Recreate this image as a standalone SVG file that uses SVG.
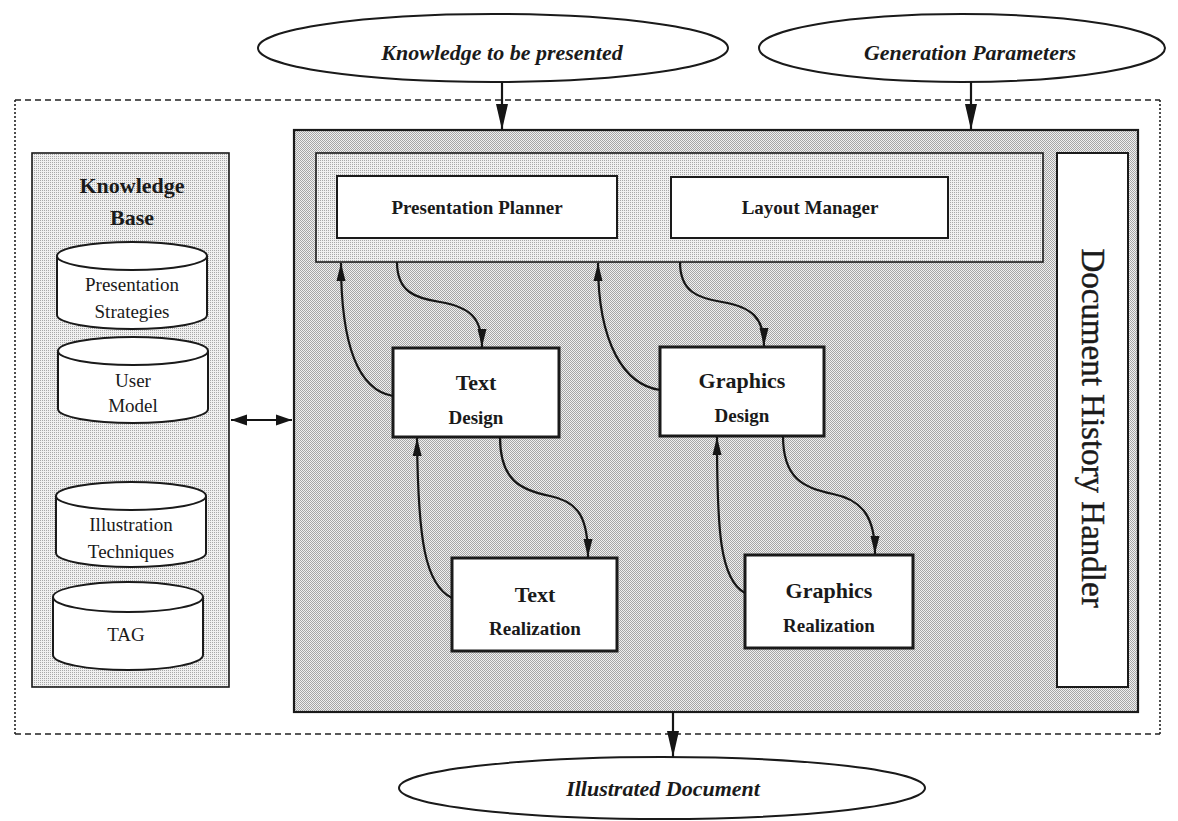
<svg xmlns="http://www.w3.org/2000/svg" width="1178" height="821" viewBox="0 0 1178 821">
<defs>
<pattern id="dark" width="2" height="2" patternUnits="userSpaceOnUse"><rect width="2" height="2" fill="#f0f0f0"/><rect x="0" y="0" width="1" height="1" fill="#a6a6a6"/><rect x="1" y="1" width="1" height="1" fill="#a6a6a6"/></pattern>
<pattern id="light" width="2" height="2" patternUnits="userSpaceOnUse"><rect width="2" height="2" fill="#f0f0f0"/><rect x="0" y="0" width="1" height="1" fill="#a8a8a8"/></pattern>
<marker id="ah" markerWidth="18" markerHeight="10" refX="18" refY="5" orient="auto" markerUnits="userSpaceOnUse"><path d="M0,0.5 L18,5 L0,9.5 z" fill="#151515"/></marker>
<marker id="big" markerWidth="26" markerHeight="13" refX="26" refY="6.5" orient="auto" markerUnits="userSpaceOnUse"><path d="M0,0.5 L26,6.5 L0,12.5 z" fill="#151515"/></marker>
<marker id="ahs" markerWidth="16" markerHeight="12" refX="16" refY="6" orient="auto-start-reverse" markerUnits="userSpaceOnUse"><path d="M0,0.5 L16,6 L0,11.5 z" fill="#151515"/></marker>
</defs>
<style>
text{font-family:"Liberation Serif","Times New Roman",serif;fill:#1a1a1a}
.it{font-style:italic;font-weight:bold;font-size:22px}
.b19{font-weight:bold;font-size:19px}
.b22{font-weight:bold;font-size:22px}
.r19{font-size:19px}
.box{fill:#fff;stroke:#1a1a1a;stroke-width:3}
.mbox{fill:#fff;stroke:#1a1a1a;stroke-width:2}
.cyl{fill:#fff;stroke:#1a1a1a;stroke-width:2}
.ell{fill:#fff;stroke:#1a1a1a;stroke-width:2}
.con{fill:none;stroke:#151515;stroke-width:2.2}
</style>
<rect width="1178" height="821" fill="#fff"/>

<g id="frame">
<line x1="15" y1="100" x2="1160" y2="100" stroke="#222" stroke-width="1.6" stroke-dasharray="6,4"/>
<line x1="15" y1="734" x2="1160" y2="734" stroke="#222" stroke-width="1.6" stroke-dasharray="6,4"/>
<line x1="15" y1="100" x2="15" y2="734" stroke="#222" stroke-width="1.6" stroke-dasharray="2,2"/>
<line x1="1160" y1="100" x2="1160" y2="734" stroke="#222" stroke-width="1.6" stroke-dasharray="2,2"/>
</g>

<g id="input-knowledge">
<ellipse class="ell" cx="493" cy="48" rx="235" ry="34"/>
<text class="it" x="502" y="60" text-anchor="middle">Knowledge to be presented</text>
</g>
<g id="input-parameters">
<ellipse class="ell" cx="962" cy="48" rx="203" ry="34"/>
<text class="it" x="970" y="60" text-anchor="middle">Generation Parameters</text>
</g>

<g id="knowledge-base">
<rect x="32" y="153" width="197" height="534" fill="url(#light)" stroke="#1a1a1a" stroke-width="1.6"/>
<text class="b22" x="132" y="193" text-anchor="middle">Knowledge</text>
<text class="b22" x="132" y="225" text-anchor="middle">Base</text>
</g>
<g id="cyl-strategies">
<path class="cyl" d="M57,256 L57,315 A75,14 0 0 0 207,315 L207,256"/>
<ellipse class="cyl" cx="132" cy="256" rx="75" ry="14"/>
<text class="r19" x="132" y="291" text-anchor="middle">Presentation</text>
<text class="r19" x="132" y="318" text-anchor="middle">Strategies</text>
</g>
<g id="cyl-user">
<path class="cyl" d="M58,351 L58,409 A75,14 0 0 0 208,409 L208,351"/>
<ellipse class="cyl" cx="133" cy="351" rx="75" ry="14"/>
<text class="r19" x="133" y="387" text-anchor="middle">User</text>
<text class="r19" x="133" y="412" text-anchor="middle">Model</text>
</g>
<g id="cyl-illustration">
<path class="cyl" d="M56,496 L56,553 A75,14 0 0 0 206,553 L206,496"/>
<ellipse class="cyl" cx="131" cy="496" rx="75" ry="14"/>
<text class="r19" x="131" y="531" text-anchor="middle">Illustration</text>
<text class="r19" x="131" y="558" text-anchor="middle">Techniques</text>
</g>
<g id="cyl-tag">
<path class="cyl" d="M53,597 L53,655 A75,15 0 0 0 203,655 L203,597"/>
<ellipse class="cyl" cx="128" cy="597" rx="75" ry="15"/>
<text class="r19" x="126" y="641" text-anchor="middle">TAG</text>
</g>

<g id="generator">
<rect x="294" y="130" width="844" height="582" fill="url(#dark)" stroke="#1a1a1a" stroke-width="2.2"/>
</g>
<g id="planner-container">
<rect x="316" y="153" width="727" height="109" fill="url(#light)" stroke="#1a1a1a" stroke-width="1.6"/>
</g>
<g id="presentation-planner">
<rect class="mbox" x="337" y="176" width="280" height="62"/>
<text class="b19" x="477" y="214" text-anchor="middle">Presentation Planner</text>
</g>
<g id="layout-manager">
<rect class="mbox" x="671" y="177" width="277" height="61"/>
<text class="b19" x="810" y="214" text-anchor="middle">Layout Manager</text>
</g>
<g id="document-history-handler">
<rect x="1057" y="153" width="71" height="534" fill="#fff" stroke="#1a1a1a" stroke-width="2"/>
<text x="1093" y="428" font-size="33" stroke="#1a1a1a" stroke-width="0.4" text-anchor="middle" dominant-baseline="central" transform="rotate(90 1093 428)">Document History Handler</text>
</g>
<g id="text-design">
<rect class="box" x="393" y="348" width="166" height="89"/>
<text class="b22" x="476" y="390" text-anchor="middle">Text</text>
<text class="b19" x="476" y="424" text-anchor="middle">Design</text>
</g>
<g id="graphics-design">
<rect class="box" x="660" y="347" width="164" height="89"/>
<text class="b22" x="742" y="388" text-anchor="middle">Graphics</text>
<text class="b19" x="742" y="422" text-anchor="middle">Design</text>
</g>
<g id="text-realization">
<rect class="box" x="452" y="558" width="165" height="93"/>
<text class="b22" x="535" y="602" text-anchor="middle">Text</text>
<text class="b19" x="535" y="635" text-anchor="middle">Realization</text>
</g>
<g id="graphics-realization">
<rect class="box" x="745" y="555" width="168" height="93"/>
<text class="b22" x="829" y="598" text-anchor="middle">Graphics</text>
<text class="b19" x="829" y="632" text-anchor="middle">Realization</text>
</g>

<g id="output-document">
<ellipse class="ell" cx="662" cy="788" rx="263" ry="31"/>
<text class="it" x="663" y="796" text-anchor="middle">Illustrated Document</text>
</g>

<g id="connectors">
<path class="con" d="M502,82 L502,130" marker-end="url(#big)"/>
<path class="con" d="M971,82 L971,130" marker-end="url(#big)"/>
<path class="con" d="M673,712 L673,757" marker-end="url(#big)"/>
<path class="con" d="M231,420 L292,420" stroke-width="3" marker-start="url(#ahs)" marker-end="url(#ahs)"/>
<path class="con" d="M393,396 C358,390 341,345 341,263" marker-end="url(#ah)"/>
<path class="con" d="M397,262 C397,292 415,298 440,302 C470,307 482,318 482,347" marker-end="url(#ah)"/>
<path class="con" d="M660,390 C625,385 598,345 598,263" marker-end="url(#ah)"/>
<path class="con" d="M680,262 C680,292 698,298 722,302 C752,307 764,318 764,346" marker-end="url(#ah)"/>
<path class="con" d="M500,437 C500,480 520,490 550,496 C580,502 588,520 588,557" marker-end="url(#ah)"/>
<path class="con" d="M452,598 C425,585 418,540 417,438" marker-end="url(#ah)"/>
<path class="con" d="M783,436 C783,478 803,488 833,494 C863,500 875,518 875,554" marker-end="url(#ah)"/>
<path class="con" d="M745,593 C720,580 717,530 717,437" marker-end="url(#ah)"/>
</g>
</svg>
